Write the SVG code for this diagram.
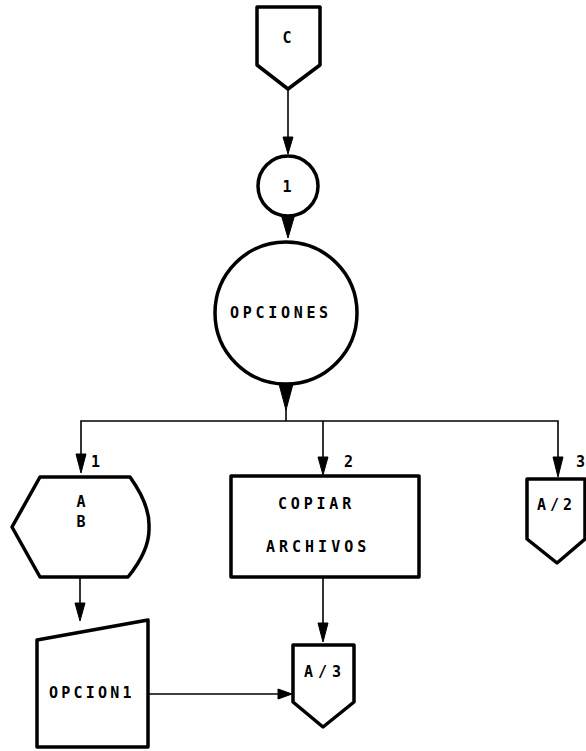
<svg xmlns="http://www.w3.org/2000/svg" width="586" height="751" viewBox="0 0 586 751">
<style>
.shape{fill:#fff;stroke:#000;stroke-width:3.5;stroke-linejoin:round}
.conn{fill:none;stroke:#000;stroke-width:1.6}
.head{fill:#000;stroke:#000;stroke-width:1}
text{font-family:"DejaVu Sans Mono","Liberation Mono",monospace;font-size:15px;font-weight:bold;fill:#000}
</style>
<rect width="586" height="751" fill="#fff"/>
<g id="connectors">
<line class="conn" x1="288" y1="89" x2="288" y2="140"/>
<polygon class="head" points="283,137 293,137 288,154"/>
<polygon class="head" points="281,214 295,214 288,238"/>
<polygon class="head" points="279,384 293,384 286,410"/>
<line class="conn" x1="286" y1="408" x2="286" y2="421"/>
<polyline class="conn" points="81,458 81,421 558,421 558,458"/>
<polygon class="head" points="76,454 86,454 81,473"/>
<line class="conn" x1="323" y1="421" x2="323" y2="460"/>
<polygon class="head" points="318,457 328,457 323,475"/>
<polygon class="head" points="553,457 563,457 558,477"/>
<text x="91" y="467" font-size="13">1</text>
<text x="344" y="467" font-size="13">2</text>
<text x="576" y="467" font-size="13">3</text>
<line class="conn" x1="80" y1="577" x2="80" y2="606"/>
<polygon class="head" points="75,603 85,603 80,621"/>
<line class="conn" x1="323" y1="577" x2="323" y2="626"/>
<polygon class="head" points="318,623 328,623 323,642"/>
<line class="conn" x1="148" y1="694" x2="280" y2="694"/>
<polygon class="head" points="278,689 278,699 292,694"/>
</g>
<g id="node-c">
<polygon class="shape" points="257,7 320,7 320,65 288,89 257,65"/>
<text x="287" y="43" text-anchor="middle">C</text>
</g>
<g id="node-1">
<circle class="shape" cx="288" cy="186" r="30" stroke-width="3"/>
<text x="287" y="192" text-anchor="middle" font-size="13">1</text>
</g>
<g id="node-opciones">
<circle class="shape" cx="286" cy="313" r="71" stroke-width="3"/>
<text x="230" y="318" letter-spacing="3.7">OPCIONES</text>
</g>
<g id="node-ab">
<path class="shape" d="M40,477 L130,477 Q150,505 149,527 Q150,550 128,577 L40,577 L12,527 Z"/>
<text x="81" y="507" text-anchor="middle" font-size="13">A</text>
<text x="81" y="527" text-anchor="middle" font-size="13">B</text>
</g>
<g id="node-copiar">
<rect class="shape" x="231" y="476" width="188" height="101"/>
<text x="278" y="509" letter-spacing="3.8">COPIAR</text>
<text x="266" y="552" letter-spacing="4">ARCHIVOS</text>
</g>
<g id="node-a2">
<polygon class="shape" points="527,479 585,479 585,539 557,563 527,539"/>
<text x="537" y="510" letter-spacing="4">A/2</text>
</g>
<g id="node-opcion1">
<polygon class="shape" points="37,640 148,620 148,747 37,747"/>
<text x="49" y="698" letter-spacing="3.2">OPCION1</text>
</g>
<g id="node-a3">
<polygon class="shape" points="293,645 354,645 354,702 323,727 293,702"/>
<text x="304" y="677" letter-spacing="5">A/3</text>
</g>
</svg>
